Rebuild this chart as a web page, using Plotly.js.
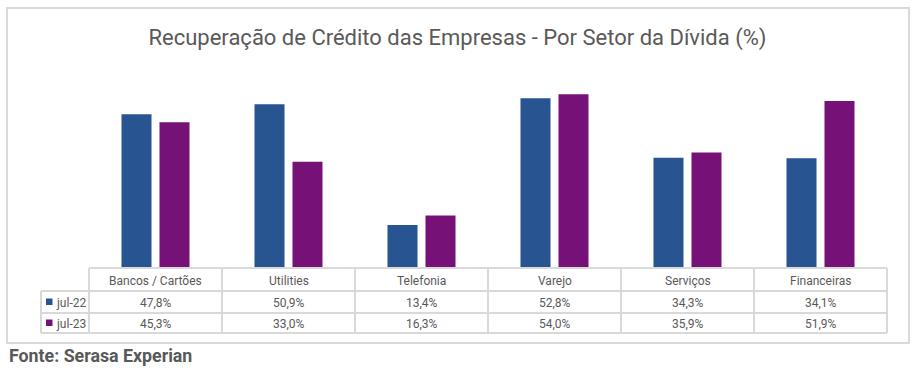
<!DOCTYPE html>
<html>
<head>
<meta charset="utf-8">
<script src="https://cdn.plot.ly/plotly-3.0.1.min.js"></script>
<style>html,body{margin:0;padding:0;background:#fff;}#chart{width:916px;height:370px;}</style>
</head>
<body>
<div id="chart"></div>
<script>
const categories = ["Bancos / Cartões", "Utilities", "Telefonia", "Varejo", "Serviços", "Financeiras"];
const seriesNames = ["jul-22", "jul-23"];
const jul22 = [47.8, 50.9, 13.4, 52.8, 34.3, 34.1];
const jul23 = [45.3, 33.0, 16.3, 54.0, 35.9, 51.9];
const seriesColors = ["#295492", "#761277"];
const titleText = "Recuperação de Crédito das Empresas - Por Setor da Dívida (%)";
const sourceText = "Fonte: Serasa Experian";

const W = 916, H = 370;
const mL = 89, mR = 29, mT = 75, mB = 102;
const plotW = W - mL - mR, plotH = H - mT - mB;
const px = x => (x - mL) / plotW;
const py = y => (H - mB - y) / plotH;
const fmt = v => v.toFixed(1).replace('.', ',') + '%';
const gridColor = '#d9d9d9';
const textColor = '#595959';
const font = 'Roboto, "Open Sans", sans-serif';

const allSeries = [jul22, jul23];
const traces = allSeries.map((vals, i) => ({
  type: 'bar', x: categories, y: vals, name: seriesNames[i],
  marker: {color: seriesColors[i]}, hoverinfo: 'skip'
}));

// Table geometry (pixels)
const rowY = [268, 291, 313, 333];
const legendLeft = 41;
const colW = plotW / categories.length;
const shapes = [];
const line = (x0, y0, x1, y1) => shapes.push({type: 'line', xref: 'paper', yref: 'paper',
  x0: px(x0), y0: py(y0), x1: px(x1), y1: py(y1), line: {color: gridColor, width: 2}});
line(mL, rowY[0], mL + plotW, rowY[0]);
for (let r = 1; r < rowY.length; r++) line(legendLeft, rowY[r], mL + plotW, rowY[r]);
for (let c = 0; c <= categories.length; c++) line(mL + c * colW, rowY[0], mL + c * colW, rowY[3]);
line(legendLeft, rowY[1], legendLeft, rowY[3]);
// outer frame
shapes.push({type: 'rect', xref: 'paper', yref: 'paper', x0: px(7), y0: py(8), x1: px(909), y1: py(343),
  line: {color: gridColor, width: 2}, layer: 'below'});

const annotations = [];
const ann = (text, x, y, opts = {}) => annotations.push(Object.assign({
  text, xref: 'paper', yref: 'paper', x: px(x), y: py(y), showarrow: false,
  xanchor: 'center', yanchor: 'middle', font: {family: font, size: 12, color: textColor}
}, opts));
categories.forEach((c, i) => {
  const cx = mL + (i + 0.5) * colW;
  ann(c, cx, (rowY[0] + rowY[1]) / 2 + 1);
  allSeries.forEach((vals, s) => ann(fmt(vals[i]), cx, (rowY[s + 1] + rowY[s + 2]) / 2 + 1));
});
seriesNames.forEach((n, s) => {
  const cy = (rowY[s + 1] + rowY[s + 2]) / 2;
  shapes.push({type: 'rect', xref: 'paper', yref: 'paper', x0: px(46), x1: px(52.5), y0: py(cy - 3.5), y1: py(cy + 3),
    fillcolor: seriesColors[s], line: {width: 0}});
  ann(n, 54, cy + 1, {xanchor: 'left'});
});
ann(sourceText, 7, 355, {xanchor: 'left', font: {family: font, size: 17.8, color: textColor, weight: 'bold'}});

const layout = {
  width: W, height: H,
  margin: {l: mL, r: mR, t: mT, b: mB, pad: 0},
  paper_bgcolor: '#fff', plot_bgcolor: '#fff',
  title: {text: titleText, x: 457.5 / W, xref: 'container', xanchor: 'center', y: 1 - 37 / H, yref: 'container', yanchor: 'middle',
    font: {family: font, size: 22, color: textColor}},
  showlegend: false,
  barmode: 'group', bargap: 0.4286, bargroupgap: 0.21,
  xaxis: {showticklabels: false, showgrid: false, zeroline: false, showline: false, ticks: '', fixedrange: true},
  yaxis: {range: [0, 60], visible: false, showgrid: false, zeroline: false, fixedrange: true},
  shapes, annotations
};
Plotly.newPlot('chart', traces, layout, {displayModeBar: false, staticPlot: true});
</script>
</body>
</html>
